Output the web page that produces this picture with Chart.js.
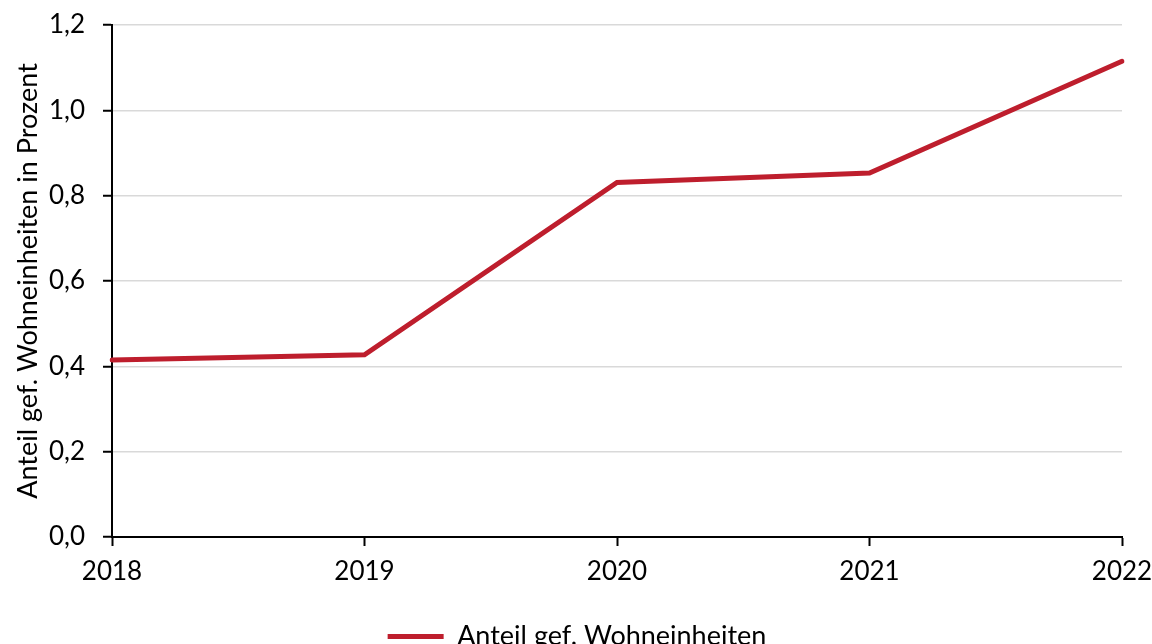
<!DOCTYPE html>
<html>
<head>
<meta charset="utf-8">
<script src="https://cdn.jsdelivr.net/npm/chart.js@4.4.1/dist/chart.umd.min.js"></script>
<style>
  html, body { margin: 0; padding: 0; background: #fff; overflow: hidden; }
  .chart-wrap { width: 1152px; height: 664px; }
</style>
</head>
<body>
<div class="chart-wrap">
  <canvas id="myChart"></canvas>
</div>
<script>
const years = ['2018', '2019', '2020', '2021', '2022'];
const shareValues = [0.415, 0.427, 0.831, 0.853, 1.115];
const seriesLabel = 'Anteil gef. Wohneinheiten';
const axisTitle = 'Anteil gef. Wohneinheiten in Prozent';

const lineRed = '#BE1E2D';
const fontFamily = 'Lato, "Open Sans", sans-serif';

const ctx = document.getElementById('myChart').getContext('2d');

// nudge the legend a bit to the right, like in the original
const legendShift = {
    id: 'legendShift',
    afterLayout(chart) {
        chart.legend.left += 16;
        chart.legend.right += 16;
    },
};

new Chart(ctx, {
    type: 'line',
    data: {
        labels: years,
        datasets: [{
            label: seriesLabel,
            data: shareValues,
            borderColor: lineRed,
            backgroundColor: lineRed,
            borderWidth: 5,
            borderCapStyle: 'round',
            pointStyle: 'line',
            pointRadius: 0,
            tension: 0,
        }],
    },
    options: {
        responsive: true,
        maintainAspectRatio: false,
        animation: false,
        layout: {
            padding: { top: 25, right: 30, bottom: 4, left: 0 },
        },
        plugins: {
            legend: {
                position: 'bottom',
                labels: {
                    usePointStyle: true,
                    pointStyleWidth: 56,
                    boxHeight: 6,
                    padding: 10,
                    color: '#000',
                    font: { family: fontFamily, size: 27 },
                },
            },
            tooltip: { enabled: false },
        },
        scales: {
            x: {
                offset: false,
                grid: {
                    drawOnChartArea: false,
                    tickLength: 9,
                    tickColor: '#000',
                    tickWidth: 2,
                },
                border: { color: '#000', width: 2 },
                ticks: {
                    color: '#000',
                    padding: 10,
                    maxRotation: 0,
                    font: { family: fontFamily, size: 26 },
                },
                afterFit: (scale) => {
                    scale.height = 76;
                    scale.paddingLeft = 0;
                    scale.paddingRight = 0;
                },
            },
            y: {
                min: 0,
                max: 1.2,
                grid: {
                    color: '#d9d9d9',
                    lineWidth: 1.5,
                    tickLength: 9,
                    tickColor: '#000',
                    tickWidth: 2,
                },
                border: { color: '#000', width: 2 },
                ticks: {
                    stepSize: 0.2,
                    color: '#000',
                    padding: 18,
                    font: { family: fontFamily, size: 26 },
                    callback: (v) => v.toFixed(1).replace('.', ','),
                },
                title: {
                    display: true,
                    text: axisTitle,
                    color: '#000',
                    padding: { top: 12, bottom: 0 },
                    font: { family: fontFamily, size: 27 },
                },
                afterFit: (scale) => {
                    scale.width = 112;
                    scale.paddingTop = 0;
                    scale.paddingBottom = 0;
                },
            },
        },
    },
    plugins: [legendShift],
});
</script>
</body>
</html>
